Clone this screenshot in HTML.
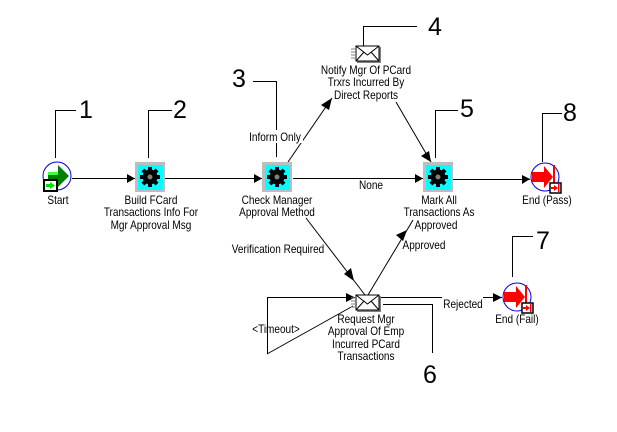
<!DOCTYPE html>
<html><head><meta charset="utf-8"><style>
html,body{margin:0;padding:0;background:#fff;width:617px;height:432px;overflow:hidden}
svg{display:block}
text{font-family:"Liberation Sans",sans-serif;fill:#000}
.t{font-size:11.8px;text-anchor:middle}
.n{font-size:25px;text-anchor:middle}
.l{stroke:#000;stroke-width:1;fill:none}
</style></head><body>
<svg width="617" height="432" viewBox="0 0 617 432" xmlns="http://www.w3.org/2000/svg">
<defs>
<g id="gear">
<rect x="-15" y="-15" width="30" height="30" fill="#bdbdbd"/>
<rect x="-12" y="-12" width="25" height="25" fill="#00ffff"/>
<g fill="#000">
<circle r="7.500"/>
<rect x="-2" y="-10" width="4" height="20"/><rect x="-10" y="-2" width="20" height="4"/>
<rect x="-2" y="-10" width="4" height="20" transform="rotate(45)"/><rect x="-10" y="-2" width="20" height="4" transform="rotate(45)"/>
</g>
<circle r="2.500" fill="#808080"/>
</g>
<g id="env">
<rect x="1" y="1" width="24" height="16" fill="#808080"/>
<rect x="0" y="0" width="23" height="15" fill="#fff" stroke="#000" shape-rendering="crispEdges"/>
<path d="M0 0L11.500 9L23 0M0 15L8 6M23 15L15 6" fill="none" stroke="#000"/>
<path d="M-5 3H0M-5 6H0M-5 9H0M-5 12H0" stroke="#808080"/>
</g>
<g id="end">
<circle r="14" fill="#fff" stroke="#0000e0" stroke-width="1"/>
<path d="M-13 -5H-1V-11L8 0L-1 11V5H-13Z" fill="#ff0000"/>
<rect x="8" y="-12" width="2" height="20" fill="#ff0000"/>
<rect x="5" y="6" width="11" height="10" fill="#fff" stroke="#000" stroke-width="1.500"/>
<path d="M6 10H9V8L13 11L9 14V12H6Z" fill="#ff0000"/>
<rect x="13" y="7" width="1.500" height="8" fill="#ff0000"/>
</g>
</defs>

<!-- callouts -->
<g shape-rendering="crispEdges">
<path class="l" d="M55.500 158V110.500H76"/>
<path class="l" d="M148.500 158V110.500H172"/>
<path class="l" d="M276.500 157V81.500H253"/>
<path class="l" d="M363.500 46V26.500H417"/>
<path class="l" d="M435.500 158V110.500H458"/>
<path class="l" d="M542.500 162V113.500H562"/>
<path class="l" d="M512.500 277V236.500H533"/>
<path class="l" d="M383 304.500H432.500V353"/>
</g>
<g>
<text class="n" x="86" y="118">1</text>
<text class="n" x="180" y="118">2</text>
<text class="n" x="239" y="87">3</text>
<text class="n" x="435" y="35">4</text>
<text class="n" x="467" y="117">5</text>
<text class="n" x="430" y="383">6</text>
<text class="n" x="543" y="249">7</text>
<text class="n" x="570" y="121">8</text>
</g>

<!-- connectors -->
<g shape-rendering="crispEdges">
<path class="l" d="M72 178.500H135"/>
<path class="l" d="M165 178.500H262"/>
<path class="l" d="M293 178.500H423"/>
<path class="l" d="M453 179.500H530"/>
<path class="l" d="M381 297.500H442M483 297.500H502"/>
<path class="l" d="M355 297.500H267.500V354"/>
</g>
<path class="l" d="M288 162L332 98"/>
<path class="l" d="M396 102L431 162"/>
<path class="l" d="M306 218L365 295"/>
<path class="l" d="M368 295L413 220"/>
<path class="l" d="M267 354L353 306"/>
<g fill="#000">
<path d="M135 178.500L127 174V183Z"/>
<path d="M262 178.500L254 174V183Z"/>
<path d="M423 178.500L415 174V183Z"/>
<path d="M530 179L522 175V184Z"/>
<path d="M502 297.500L493 293V302Z"/>
<path d="M355 297.500L346 293V302Z"/>
<path d="M332 98L321 105L329 110Z"/>
<path d="M431 162L421 156L429 151Z"/>
<path d="M354 281L344 274L351 268Z"/>
<path d="M407 230L396 235L403 241Z"/>
</g>

<!-- label backgrounds -->
<g fill="#fff">
<rect x="249" y="130" width="54" height="13"/>
<rect x="356" y="179" width="27" height="13"/>
<rect x="442" y="291" width="41" height="13"/>
</g>

<!-- start -->
<g transform="translate(57,176)">
<circle r="14" fill="#fff" stroke="#0000e0"/>
<path d="M-9 -4H1V-11L12 0L1 11V4H-9Z" fill="#008000"/>
<path d="M-9 -4H1V-1H-9Z" fill="#40ff40"/>
<rect x="-13" y="4" width="13" height="11" fill="#fff" stroke="#000" stroke-width="2"/>
<path d="M-11 8H-7V6L-2 9.500L-7 13V11H-11Z" fill="#00e000"/>
</g>

<use href="#gear" x="150" y="177"/>
<use href="#gear" x="277" y="177"/>
<use href="#gear" x="438" y="177"/>
<use href="#env" x="356" y="46"/>
<use href="#env" x="356" y="295"/>
<use href="#end" x="545" y="177"/>
<use href="#end" x="517" y="297"/>

<!-- labels: condensed horizontally to match the narrow bitmap font -->
<g transform="scale(0.85,1)">
<text class="t" x="68.200" y="204">Start</text>
<text class="t" x="177.600" y="204">Build FCard</text>
<text class="t" x="177.600" y="216">Transactions Info For</text>
<text class="t" x="177.600" y="229">Mgr Approval Msg</text>
<text class="t" x="325.900" y="204">Check Manager</text>
<text class="t" x="325.900" y="216">Approval Method</text>
<text class="t" x="323.500" y="141">Inform Only</text>
<text class="t" x="436.500" y="189">None</text>
<text class="t" x="430.600" y="74">Notify Mgr Of PCard</text>
<text class="t" x="430.600" y="86">Trxrs Incurred By</text>
<text class="t" x="430.600" y="99">Direct Reports</text>
<text class="t" x="516.500" y="204">Mark All</text>
<text class="t" x="516.500" y="216">Transactions As</text>
<text class="t" x="512.900" y="229">Approved</text>
<text class="t" x="643.500" y="204">End (Pass)</text>
<text class="t" x="608.200" y="323">End (Fail)</text>
<text class="t" x="544.700" y="308">Rejected</text>
<text class="t" x="498.800" y="249">Approved</text>
<text class="t" x="327.100" y="253">Verification Required</text>
<text class="t" x="324.700" y="333">&lt;Timeout&gt;</text>
<text class="t" x="430.600" y="323">Request Mgr</text>
<text class="t" x="430.600" y="335">Approval Of Emp</text>
<text class="t" x="430.600" y="348">Incurred PCard</text>
<text class="t" x="430.600" y="360">Transactions</text>
</g>
</svg>
</body></html>
